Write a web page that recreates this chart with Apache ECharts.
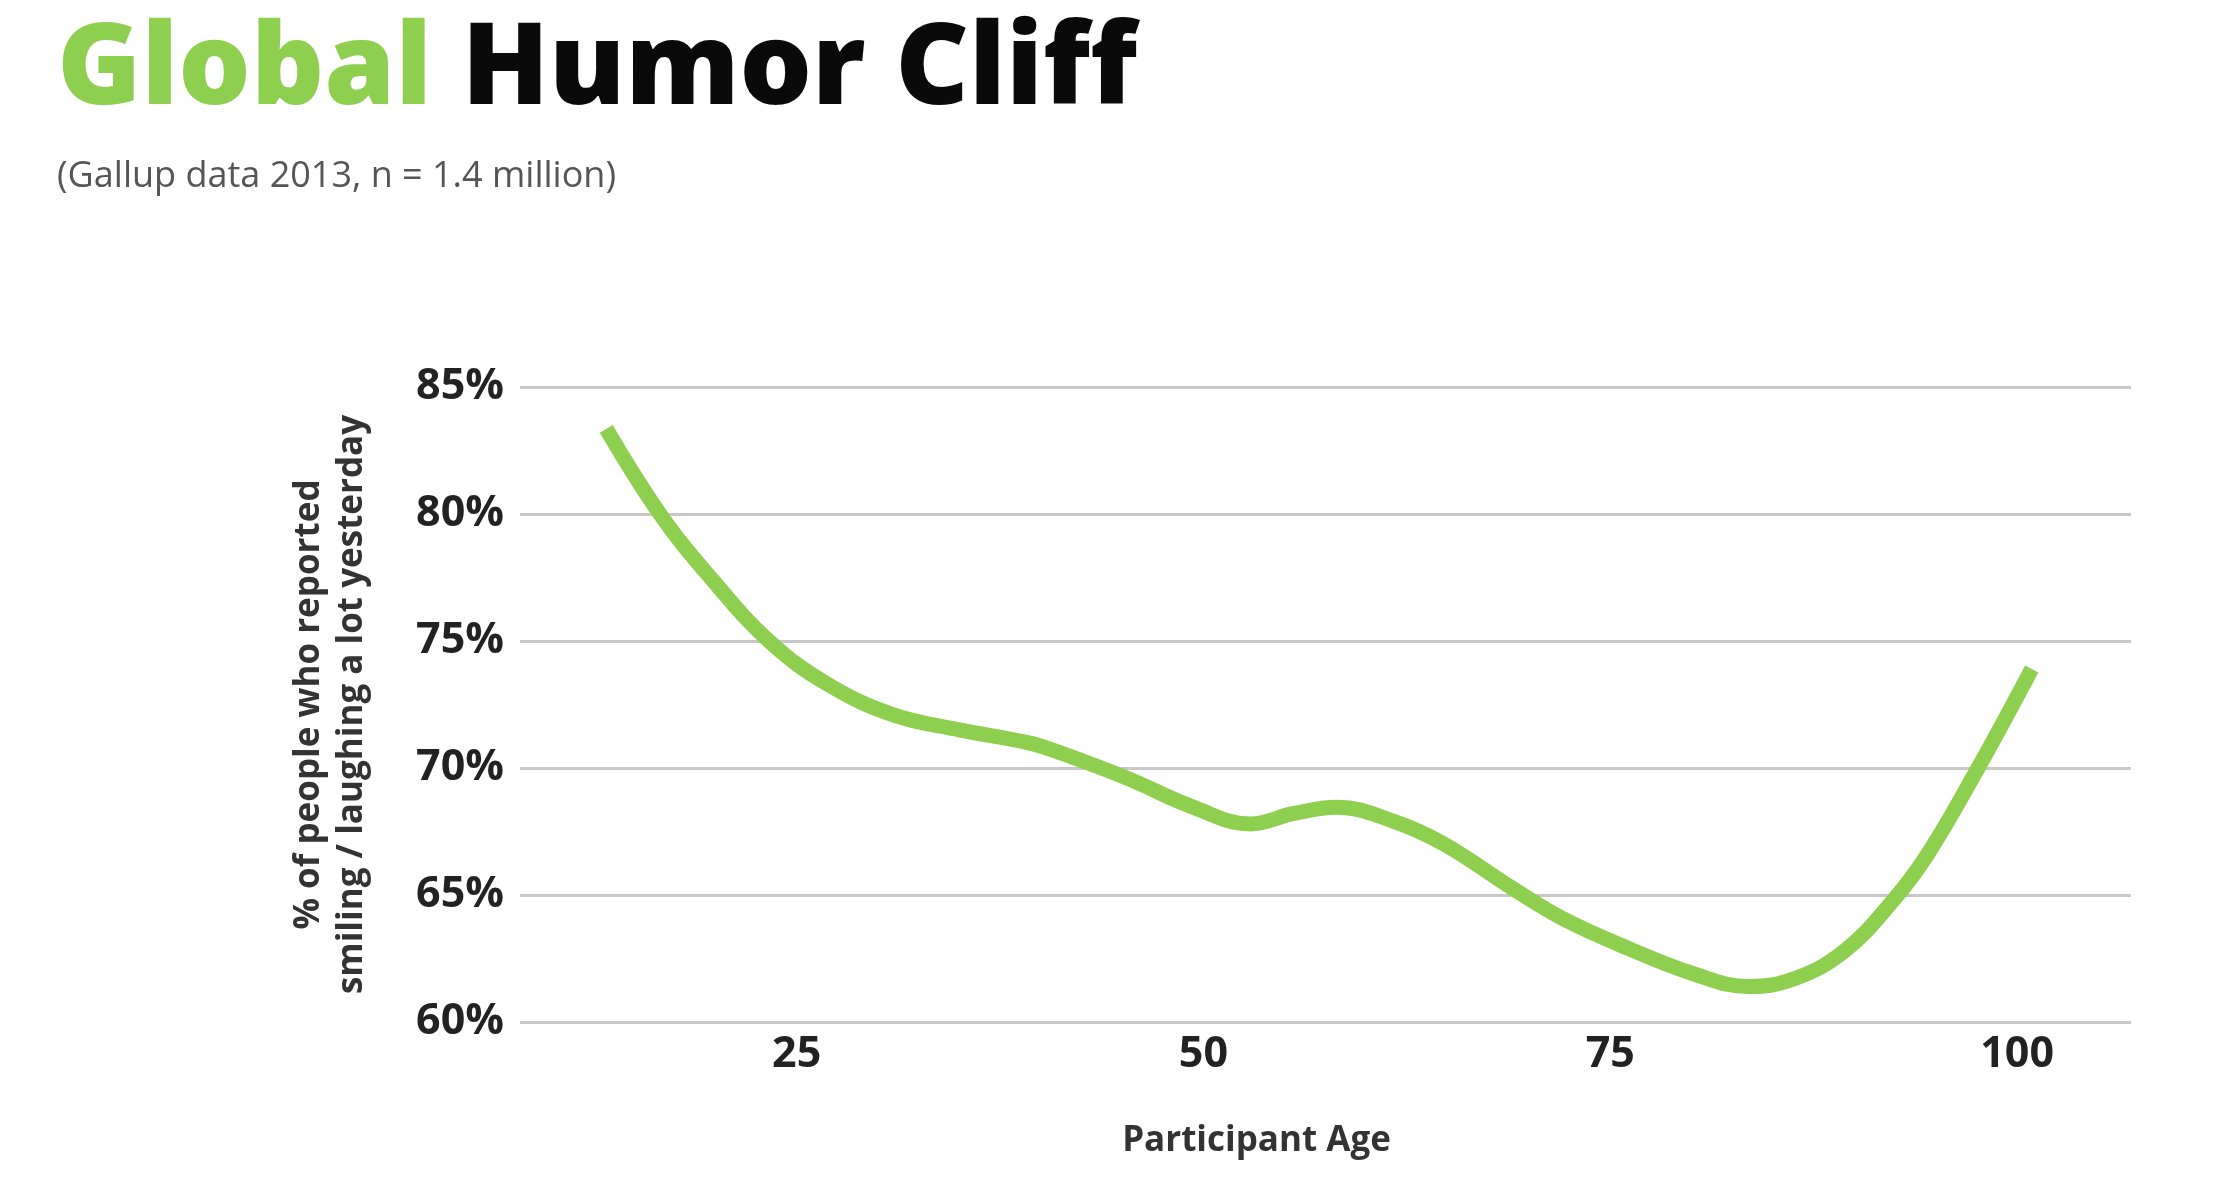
<!DOCTYPE html>
<html>
<head>
<meta charset="utf-8">
<script src="https://cdn.jsdelivr.net/npm/echarts@6/dist/echarts.min.js"></script>
<style>
  html, body { margin: 0; padding: 0; background: #ffffff; }
  #chart { width: 2232px; height: 1192px; }
</style>
</head>
<body>
<div id="chart"></div>
<script>
// Data
const ages = [13.3, 16.6, 19.7, 23.3, 26.9, 30.9, 35.0, 39.2, 41.2, 45.3, 49.4, 52.9, 55.5, 58.2, 61.7, 64.8, 68.9, 72.0, 76.1, 80.1, 83.5, 86.3, 89.4, 92.4, 94.5, 97.6, 100.9];
const smilingPct = [83.35, 80.0, 77.5, 75.0, 73.3, 72.1, 71.5, 71.0, 70.6, 69.6, 68.45, 67.8, 68.2, 68.45, 67.9, 67.0, 65.3, 64.1, 62.9, 61.9, 61.4, 61.7, 62.8, 64.8, 66.6, 70.0, 73.9];
const xTickLabels = [25, 50, 75, 100];
const yTickValues = [60, 65, 70, 75, 80, 85];

const titleGreen = 'Global';
const titleBlack = 'Humor Cliff';
const subtitle = '(Gallup data 2013, n = 1.4 million)';
const yAxisName = '% of people who reported\nsmiling / laughing a lot yesterday';
const xAxisName = 'Participant Age';

const green = '#8fcf50';
const font = '"Open Sans", "Noto Sans", sans-serif';

const chart = echarts.init(document.getElementById('chart'), null, { renderer: 'canvas' });
chart.setOption({
  backgroundColor: '#ffffff',
  animation: false,
  title: {
    text: '{g|' + titleGreen + ' }{b|' + titleBlack + '}',
    subtext: subtitle,
    left: 52,
    top: 10,
    itemGap: 30,
    textStyle: {
      rich: {
        g: { color: green, fontSize: 114, fontWeight: 800, fontFamily: font },
        b: { color: '#0a0a0a', fontSize: 114, fontWeight: 800, fontFamily: font }
      }
    },
    subtextStyle: { color: '#555555', fontSize: 36, fontFamily: font }
  },
  grid: { left: 520, right: 101, top: 387, bottom: 170, containLabel: false },
  xAxis: {
    type: 'value',
    min: 8,
    max: 107,
    name: xAxisName,
    nameLocation: 'middle',
    nameGap: 102,
    nameTextStyle: { color: '#333333', fontSize: 35, fontWeight: 'bold', fontFamily: font, padding: [0, 138, 0, 0] },
    axisLine: { show: false },
    axisTick: { show: false },
    splitLine: { show: false },
    axisLabel: {
      customValues: xTickLabels,
      color: '#222222',
      fontSize: 43,
      fontWeight: 'bold',
      fontFamily: font,
      margin: 11
    }
  },
  yAxis: {
    type: 'value',
    min: 60,
    max: 85,
    interval: 5,
    name: yAxisName,
    nameLocation: 'middle',
    nameGap: 146,
    nameRotate: 90,
    nameTextStyle: { color: '#333333', fontSize: 35, fontWeight: 'bold', fontFamily: font, lineHeight: 43, align: 'center' },
    axisLine: { show: false },
    axisTick: { show: false },
    axisLabel: {
      formatter: '{value}%',
      color: '#222222',
      fontSize: 43,
      fontWeight: 'bold',
      fontFamily: font,
      margin: 16
    },
    splitLine: { show: true, lineStyle: { color: '#c8c8c8', width: 3 } }
  },
  series: [{
    type: 'line',
    data: ages.map((a, i) => [a, smilingPct[i]]),
    smooth: 0.4,
    showSymbol: false,
    lineStyle: { color: green, width: 15, cap: 'butt', join: 'round' }
  }]
});
</script>
</body>
</html>
